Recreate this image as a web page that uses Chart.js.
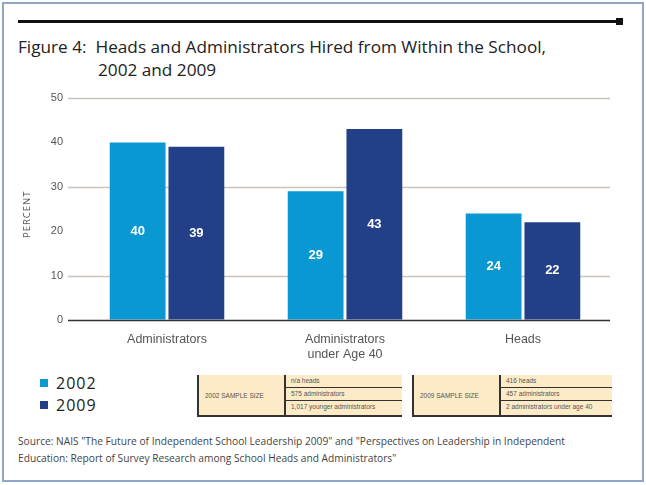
<!DOCTYPE html>
<html lang="en">
<head>
  <meta charset="UTF-8" />
  <title>Heads and Administrators Hired from Within the School</title>
  <script src="https://cdn.jsdelivr.net/npm/chart.js"></script>
  <style>
    body { margin: 0; background: #fff; font-family: 'Open Sans', 'Liberation Sans', sans-serif; }
    .frame {
      position: absolute; left: 2px; top: 2px; width: 638px; height: 476px;
      border: 2px solid #8fa6c6; background: #fff; overflow: hidden;
    }
    .rule { position: absolute; left: 14px; top: 16px; width: 602px; height: 3px; background: #111; }
    .rule-end { position: absolute; left: 612px; top: 14px; width: 7px; height: 7px; background: #111; }
    .title { position: absolute; left: 14px; top: 31px; font-size: 17.2px; line-height: 23px; color: #222; white-space: nowrap; }
    .title .l2 { padding-left: 80px; }
    #chartWrap { position: absolute; left: -2px; top: 78px; width: 646px; height: 290px; }
    .ylab {
      position: absolute; left: 16px; top: 234px; transform: rotate(-90deg); transform-origin: left top;
      font-size: 9.5px; color: #555; letter-spacing: 1px; white-space: nowrap;
    }
    .legend { position: absolute; left: 36px; top: 368px; font-size: 16px; color: #222; letter-spacing: 1px; }
    .legend div { height: 22px; display: flex; align-items: center; }
    .legend span.sw { display: inline-block; width: 8px; height: 8px; margin-right: 8px; }
    .tbl {
      position: absolute; top: 371px; height: 40px; background: #fcebc6;
      border-left: 2px solid #333; border-bottom: 2px solid #333;
      font-family: 'Liberation Sans', sans-serif; font-size: 6.5px; color: #555;
    }
    .tbl .lab { position: absolute; left: 0; top: 0; height: 40px; display: flex; align-items: center; padding-left: 6px; }
    .tbl .rows { position: absolute; top: 0; bottom: 0; right: 0; border-left: 2px solid #333; }
    .tbl .rows div { height: 12px; border-bottom: 1.5px solid #333; padding-left: 5px; line-height: 12px; }
    .tbl .rows div:last-child { border-bottom: none; }
    .source { position: absolute; left: 14px; top: 429px; font-size: 10.2px; line-height: 17px; color: #444; white-space: nowrap; }
  </style>
</head>
<body>
  <div class="frame">
    <div class="rule"></div><div class="rule-end"></div>
    <div class="title">Figure 4:&nbsp; Heads and Administrators Hired from Within the School,<br><span class="l2">2002 and 2009</span></div>
    <div id="chartWrap"><canvas id="chart" width="646" height="290"></canvas></div>
    <div class="ylab">PERCENT</div>
    <div class="legend">
      <div><span class="sw" style="background:#0a98d2"></span>2002</div>
      <div><span class="sw" style="background:#223f88"></span>2009</div>
    </div>
    <div class="tbl" style="left:193px; width:203px;">
      <div class="lab">2002 SAMPLE SIZE</div>
      <div class="rows" style="width:116px;"><div>n/a heads</div><div>575 administrators</div><div>1,017 younger administrators</div></div>
    </div>
    <div class="tbl" style="left:408px; width:198px;">
      <div class="lab">2009 SAMPLE SIZE</div>
      <div class="rows" style="left:85px;"><div>416 heads</div><div>457 administrators</div><div>2 administrators under age 40</div></div>
    </div>
    <div class="source">Source: NAIS "The Future of Independent School Leadership 2009" and "Perspectives on Leadership in Independent<br>Education: Report of Survey Research among School Heads and Administrators"</div>
  </div>

  <script>
    const categories = [['Administrators'], ['Administrators', 'under Age 40'], ['Heads']];
    const seriesNames = ['2002', '2009'];
    const values2002 = [40, 29, 24];
    const values2009 = [39, 43, 22];
    const yMin = 0, yMax = 50, yStep = 10;
    const gridValues = [50, 30, 10];

    const colors = ['#0a98d2', '#223f88'];

    // only some gridlines are drawn, plus a dark zero line
    const gridLines = {
      id: 'gridLines',
      beforeDatasetsDraw(chart) {
        const { ctx, chartArea, scales } = chart;
        const x0 = chartArea.left - 10, x1 = chartArea.right - 2;
        ctx.save();
        ctx.lineWidth = 1.6;
        ctx.strokeStyle = '#cbc3bc';
        gridValues.forEach(v => {
          const y = Math.round(scales.y.getPixelForValue(v)) + 0.5;
          ctx.beginPath(); ctx.moveTo(x0, y); ctx.lineTo(x1, y); ctx.stroke();
        });
        ctx.restore();
      },
      afterDatasetsDraw(chart) {
        const { ctx, chartArea, scales } = chart;
        const y = Math.round(scales.y.getPixelForValue(0)) + 0.5;
        ctx.save();
        ctx.lineWidth = 1.6;
        ctx.strokeStyle = '#333';
        ctx.beginPath(); ctx.moveTo(chartArea.left - 10, y); ctx.lineTo(chartArea.right - 2, y); ctx.stroke();
        ctx.restore();
      }
    };

    // white value labels centred inside each bar
    const barLabels = {
      id: 'barLabels',
      afterDatasetsDraw(chart) {
        const ctx = chart.ctx;
        ctx.save();
        ctx.fillStyle = '#fff';
        ctx.font = 'bold 13px "Liberation Sans", sans-serif';
        ctx.textAlign = 'center';
        ctx.textBaseline = 'middle';
        chart.data.datasets.forEach((ds, i) => {
          chart.getDatasetMeta(i).data.forEach((bar, j) => {
            ctx.fillText(ds.data[j], bar.x, (bar.y + bar.base) / 2);
          });
        });
        ctx.restore();
      }
    };

    new Chart(document.getElementById('chart'), {
      type: 'bar',
      data: {
        labels: categories,
        datasets: [
          { label: seriesNames[0], data: values2002, backgroundColor: colors[0] },
          { label: seriesNames[1], data: values2009, backgroundColor: colors[1] }
        ]
      },
      options: {
        responsive: false,
        animation: false,
        layout: { padding: { top: 16, right: 36, left: 0, bottom: 0 } },
        datasets: { bar: { categoryPercentage: 0.66, barPercentage: 0.95 } },
        plugins: { legend: { display: false }, tooltip: { enabled: false } },
        scales: {
          x: {
            grid: { display: false },
            border: { display: false },
            ticks: {
              padding: 4,
              color: '#555',
              font: { family: '"Liberation Sans", sans-serif', size: 12.5 },
              maxRotation: 0
            },
            afterFit: s => { s.height = 52; }
          },
          y: {
            min: yMin, max: yMax,
            border: { display: false },
            grid: { tickLength: 10, color: 'rgba(0,0,0,0)' },
            ticks: {
              stepSize: yStep, padding: 5, color: '#555',
              font: { family: '"Liberation Sans", sans-serif', size: 11 }
            },
            afterFit: s => { s.width = 76; }
          }
        }
      },
      plugins: [gridLines, barLabels]
    });
  </script>
</body>
</html>
